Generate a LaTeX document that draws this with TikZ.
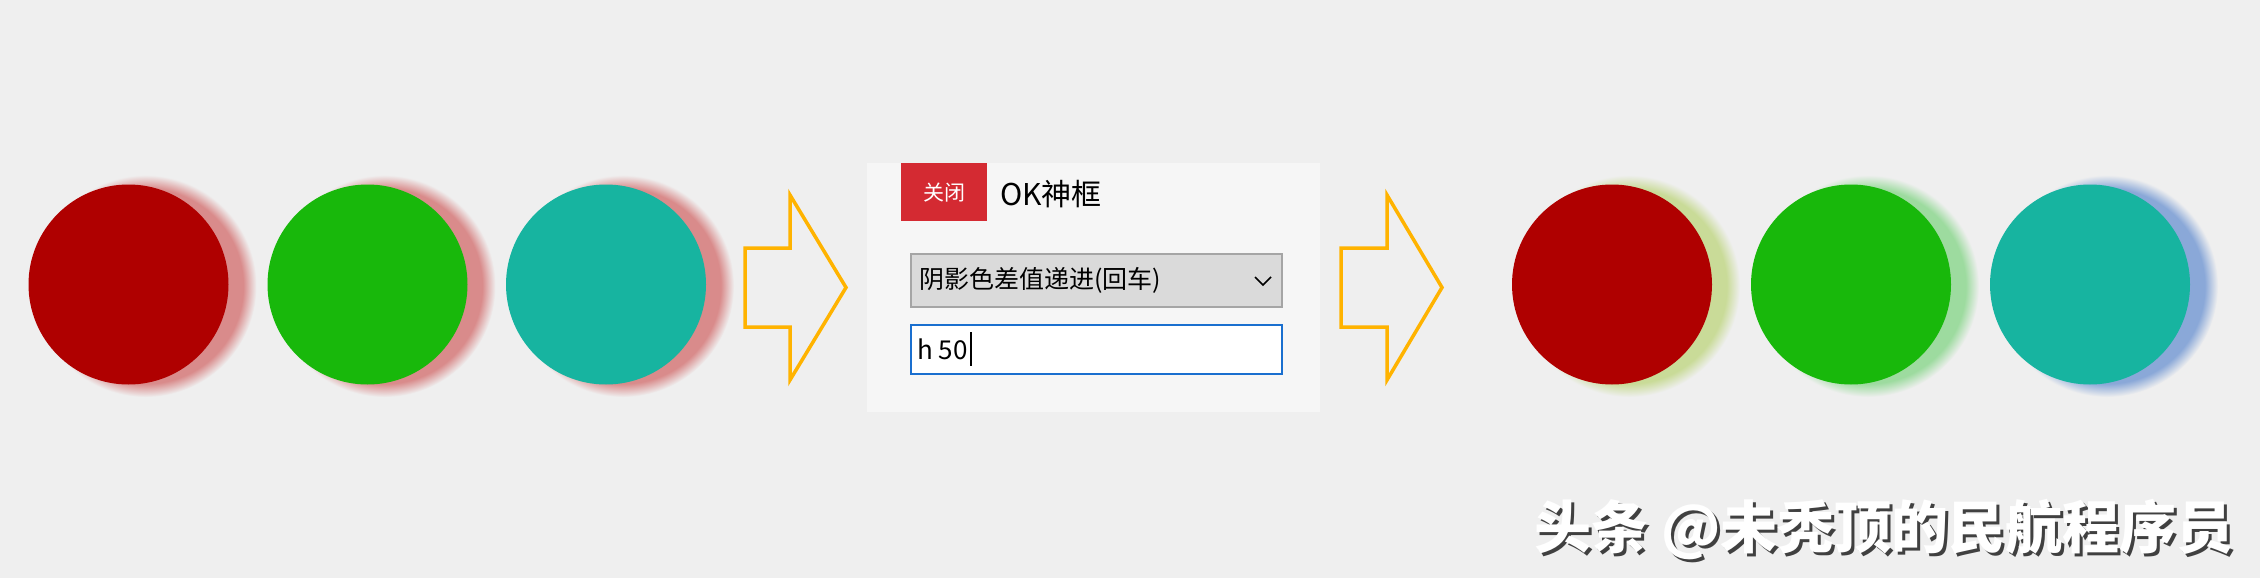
\documentclass[tikz,border=0pt]{standalone}
\usepackage{fontspec}
\setmainfont{Noto Sans CJK SC}
\usepackage{xcolor}
\definecolor{bgback}{HTML}{EFEFEF}
\definecolor{panelbg}{HTML}{F6F6F6}
\definecolor{closered}{HTML}{D42A32}
\definecolor{combofill}{HTML}{DADADA}
\definecolor{combogray}{HTML}{A5A5A5}
\definecolor{inputblue}{HTML}{1A6FCF}
\definecolor{arroworange}{HTML}{FFB300}
\definecolor{circred}{HTML}{AF0000}
\definecolor{circgreen}{HTML}{18B80B}
\definecolor{circteal}{HTML}{17B4A0}
\definecolor{glowpink}{HTML}{D98B8B}
\definecolor{glowlime}{HTML}{C9DB98}
\definecolor{glowmint}{HTML}{9DDB9F}
\definecolor{glowblue}{HTML}{8AA8D8}
\pgfdeclareradialshading{pinkglow}{\pgfpointorigin}{color(0bp)=(glowpink); color(22bp)=(glowpink); color(25bp)=(bgback); color(50bp)=(bgback)}
\pgfdeclareradialshading{limeglow}{\pgfpointorigin}{color(0bp)=(glowlime); color(22bp)=(glowlime); color(25bp)=(bgback); color(50bp)=(bgback)}
\pgfdeclareradialshading{mintglow}{\pgfpointorigin}{color(0bp)=(glowmint); color(22bp)=(glowmint); color(25bp)=(bgback); color(50bp)=(bgback)}
\pgfdeclareradialshading{blueglow}{\pgfpointorigin}{color(0bp)=(glowblue); color(22bp)=(glowblue); color(25bp)=(bgback); color(50bp)=(bgback)}

\begin{document}
\begin{tikzpicture}[x=1pt,y=-1pt,
    blockarrow/.style={draw=arroworange,line width=3.5pt,miter limit=20},
    uitext/.style={anchor=west,inner sep=0pt,font=\fontsize{25}{28}\selectfont}]
             \useasboundingbox (0,0) rectangle (2260,578);
             \fill[bgback] (0,0) rectangle (2260,578);
             \foreach \cx/\body/\glow in {128.5/circred/pinkglow,367.5/circgreen/pinkglow,606/circteal/pinkglow,
                                          1612/circred/limeglow,1851/circgreen/mintglow,2090/circteal/blueglow}{
               \shade[shading=\glow] (\cx+17,286) circle [radius=111];
               \fill[\body] (\cx,284.5) circle [radius=100];
             }
             \draw[blockarrow] (745,248) -- (790,248) -- (790,195) -- (846,287.5)
                               -- (790,380) -- (790,327) -- (745,327) -- cycle;
             \draw[blockarrow] (1341,248) -- (1387,248) -- (1387,195) -- (1442,287.5)
                               -- (1387,380) -- (1387,327) -- (1341,327) -- cycle;
             \node (dialog) [fill=panelbg,minimum width=453pt,minimum height=249pt,anchor=north west,inner sep=0pt] at (867,163) {};
             \node (close) [fill=closered,text=white,minimum width=86pt,minimum height=58pt,anchor=north west,inner sep=0pt,
                            font=\fontsize{21}{24}\selectfont] at (901,163) {关闭};
             \node (title) [uitext,font=\fontsize{30}{34}\selectfont] at (1000,194) {OK神框};
             \node (combo) [draw=combogray,fill=combofill,line width=2pt,minimum width=371pt,minimum height=53pt,
                            anchor=north west,inner sep=0pt] at (910,253) {};
             \node (combotext) [uitext] at (919,280) {阴影色差值递进(回车)};
             \draw[line width=1.6pt] (1255,277) -- (1263,285) -- (1271,277);
             \node (input) [draw=inputblue,fill=white,line width=2pt,minimum width=371pt,minimum height=49pt,
                            anchor=north west,inner sep=0pt] at (910,324) {};
             \node (inputtext) [uitext,font=\fontsize{26}{28}\selectfont] at (917,349) {h 50};
             \draw[line width=1.6pt] ([xshift=3pt]inputtext.east) +(0,-17) -- +(0,17);
             \node (markshadow) [anchor=east,text=black!75,font=\bfseries\fontsize{57}{60}\selectfont] at (2240,533) {头条 @未秃顶的民航程序员};
             \node (mark) [anchor=east,text=white,font=\bfseries\fontsize{57}{60}\selectfont] at (2237,530) {头条 @未秃顶的民航程序员};
          \end{tikzpicture}
\end{document}
